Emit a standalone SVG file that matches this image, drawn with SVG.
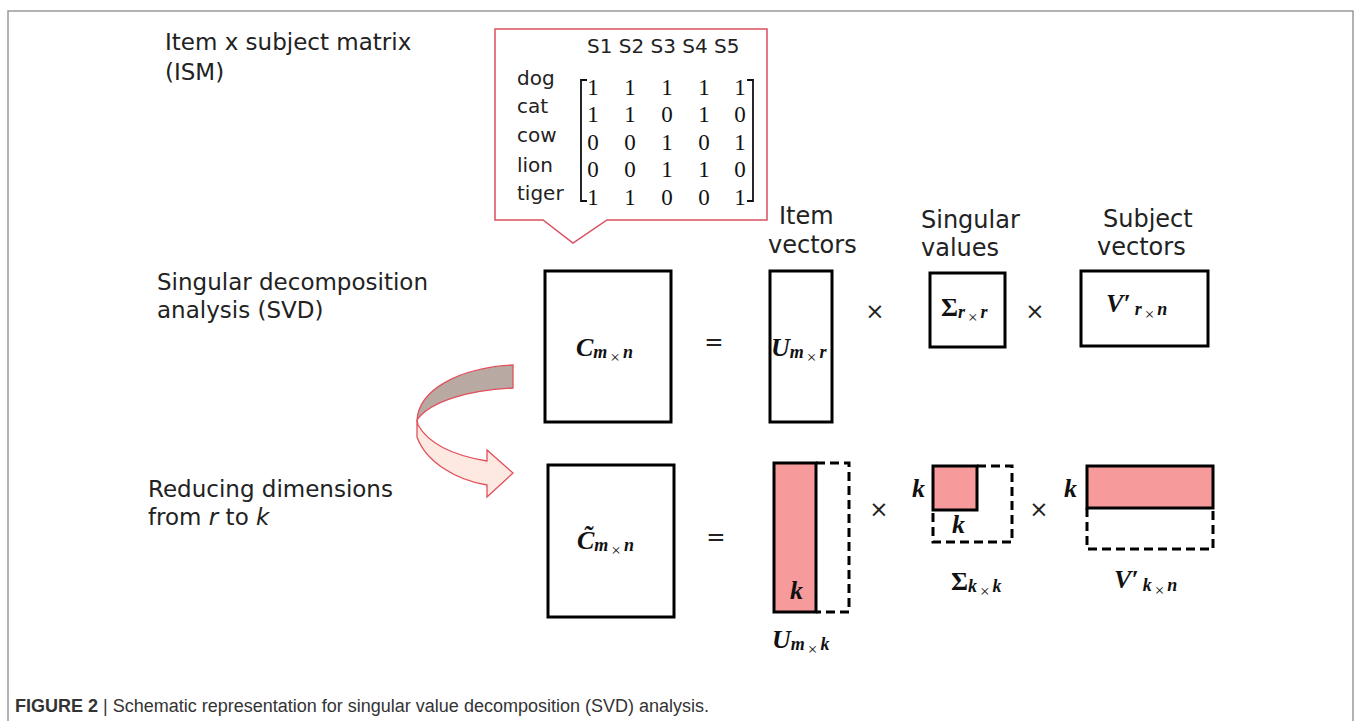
<svg xmlns="http://www.w3.org/2000/svg" width="1356" height="721" viewBox="0 0 1356 721">
<style>
.lbl{font-family:"DejaVu Sans",Verdana,sans-serif;font-size:23px;fill:#222}
.hd{font-family:"DejaVu Sans",Verdana,sans-serif;font-size:24px;fill:#222}
.sm{font-family:"DejaVu Sans",Verdana,sans-serif;font-size:20px;fill:#222}
.num{font-family:"Liberation Serif","Times New Roman",serif;font-size:23px;fill:#111;text-anchor:middle}
.m{font-family:"Liberation Serif","Times New Roman",serif;font-weight:bold;font-style:italic;font-size:26px;fill:#111}
.up{font-style:normal}
.s{font-size:18px;font-style:italic}
.x{font-size:17px;font-weight:normal;font-style:normal}
.op{font-family:"DejaVu Sans",sans-serif;font-size:23px;fill:#222;text-anchor:middle}
.box{fill:#fff;stroke:#000;stroke-width:3}
.pink{fill:#f79a9b;stroke:#000;stroke-width:3}
.dash{fill:none;stroke:#000;stroke-width:3;stroke-dasharray:9 5}
.brk{fill:none;stroke:#111;stroke-width:1.8}
.cap{font-family:"Liberation Sans",Arial,sans-serif;font-size:18px;fill:#333}
</style>
<rect width="1356" height="721" fill="#fff"/>
<path d="M8,721 V11 H1353 V721" fill="none" stroke="#999" stroke-width="1.5"/>

<g id="ism-label">
<text class="lbl" x="165" y="50">Item x subject matrix</text>
<text class="lbl" x="165" y="80">(ISM)</text>
</g>

<g id="ism-callout">
<path d="M495,29 H767 V220 H607 L573,243 L543,220 H495 Z" fill="#fff" stroke="#d9505e" stroke-width="1.5"/>
<text class="sm" x="587" y="53">S1 S2 S3 S4 S5</text>
<text class="sm" x="517" y="85">dog</text>
<text class="sm" x="517" y="113">cat</text>
<text class="sm" x="517" y="142">cow</text>
<text class="sm" x="517" y="172">lion</text>
<text class="sm" x="517" y="200">tiger</text>
<path class="brk" d="M587,80 H581 V201 H587 M747,80 H753 V201 H747"/>
<g class="num">
<text x="593" y="95">1</text><text x="630" y="95">1</text><text x="667" y="95">1</text><text x="704" y="95">1</text><text x="740" y="95">1</text>
<text x="593" y="122">1</text><text x="630" y="122">1</text><text x="667" y="122">0</text><text x="704" y="122">1</text><text x="740" y="122">0</text>
<text x="593" y="150">0</text><text x="630" y="150">0</text><text x="667" y="150">1</text><text x="704" y="150">0</text><text x="740" y="150">1</text>
<text x="593" y="177">0</text><text x="630" y="177">0</text><text x="667" y="177">1</text><text x="704" y="177">1</text><text x="740" y="177">0</text>
<text x="593" y="205">1</text><text x="630" y="205">1</text><text x="667" y="205">0</text><text x="704" y="205">0</text><text x="740" y="205">1</text>
</g>
</g>

<g id="svd-label">
<text class="lbl" x="157" y="290">Singular decomposition</text>
<text class="lbl" x="157" y="318">analysis (SVD)</text>
</g>

<g id="reduce-label">
<text class="lbl" x="148" y="497">Reducing dimensions</text>
<text class="lbl" x="148" y="525">from <tspan font-style="italic">r</tspan> to <tspan font-style="italic">k</tspan></text>
</g>

<g id="headers">
<text class="hd" x="779" y="224">Item</text>
<text class="hd" x="768" y="253">vectors</text>
<text class="hd" x="921" y="228">Singular</text>
<text class="hd" x="921" y="256">values</text>
<text class="hd" x="1103" y="227">Subject</text>
<text class="hd" x="1097" y="255">vectors</text>
</g>

<g id="curved-arrow">
<path d="M513,365 C458,368 419,390 417,420 C430,401 470,390 513,388 Z" fill="#b8aaa2" stroke="#e0505a" stroke-width="1.3"/>
<path d="M417,420 L417,437 C426,462 456,480 487,485 L487,497 L513,473 L487,450 L487,461 C456,456 430,446 418,425 Z" fill="#fde9e2" stroke="#e0505a" stroke-width="1.3"/>
</g>

<g id="C">
<rect class="box" x="545" y="271" width="126" height="151"/>
<text class="m" x="576" y="356">C<tspan class="s" dy="2">m</tspan><tspan class="x" dx="3" dy="5">×</tspan><tspan class="s" dx="3" dy="-5">n</tspan></text>
</g>
<text class="op" x="714" y="350">=</text>
<g id="U">
<rect class="box" x="770" y="271" width="62" height="151"/>
<text class="m" x="771" y="356">U<tspan class="s" dy="2">m</tspan><tspan class="x" dx="3" dy="5">×</tspan><tspan class="s" dx="3" dy="-5">r</tspan></text>
</g>
<text class="op" x="875" y="319">×</text>
<g id="Sigma">
<rect class="box" x="930" y="273" width="75" height="74"/>
<text class="m up" x="941" y="316">Σ<tspan class="s" dy="2">r</tspan><tspan class="x" dx="3" dy="5">×</tspan><tspan class="s" dx="3" dy="-5">r</tspan></text>
</g>
<text class="op" x="1035" y="319">×</text>
<g id="V">
<rect class="box" x="1081" y="271" width="127" height="75"/>
<text class="m" x="1106" y="312">V′<tspan class="s" dx="4" dy="3">r</tspan><tspan class="x" dx="3" dy="5">×</tspan><tspan class="s" dx="3" dy="-5">n</tspan></text>
</g>

<g id="Ctilde">
<rect class="box" x="548" y="465" width="126" height="152"/>
<text class="m" x="577" y="549">C̃<tspan class="s" dy="2">m</tspan><tspan class="x" dx="3" dy="5">×</tspan><tspan class="s" dx="3" dy="-5">n</tspan></text>
</g>
<text class="op" x="716" y="545">=</text>
<g id="Uk">
<path class="dash" d="M816,463 H849 V612 H816"/>
<rect class="pink" x="774" y="463" width="42" height="149"/>
<text class="m" x="790" y="599">k</text>
<text class="m" x="772" y="648">U<tspan class="s" dy="2">m</tspan><tspan class="x" dx="3" dy="5">×</tspan><tspan class="s" dx="3" dy="-5">k</tspan></text>
</g>
<text class="op" x="879" y="517">×</text>
<g id="Sigmak">
<path class="dash" d="M977,466 H1012 V542 H933 V510"/>
<rect class="pink" x="933" y="466" width="44" height="44"/>
<text class="m" x="912" y="497">k</text>
<text class="m" x="952" y="533">k</text>
<text class="m up" x="951" y="590">Σ<tspan class="s" dy="2">k</tspan><tspan class="x" dx="3" dy="5">×</tspan><tspan class="s" dx="3" dy="-5">k</tspan></text>
</g>
<text class="op" x="1039" y="517">×</text>
<g id="Vk">
<path class="dash" d="M1087,508 V549 H1213 V508"/>
<rect class="pink" x="1087" y="466" width="126" height="42"/>
<text class="m" x="1064" y="497">k</text>
<text class="m" x="1114" y="588">V′<tspan class="s" dx="4" dy="3">k</tspan><tspan class="x" dx="3" dy="5">×</tspan><tspan class="s" dx="3" dy="-5">n</tspan></text>
</g>

<g id="caption">
<text class="cap" x="15" y="712"><tspan font-weight="bold">FIGURE 2</tspan> | Schematic representation for singular value decomposition (SVD) analysis.</text>
</g>
</svg>
